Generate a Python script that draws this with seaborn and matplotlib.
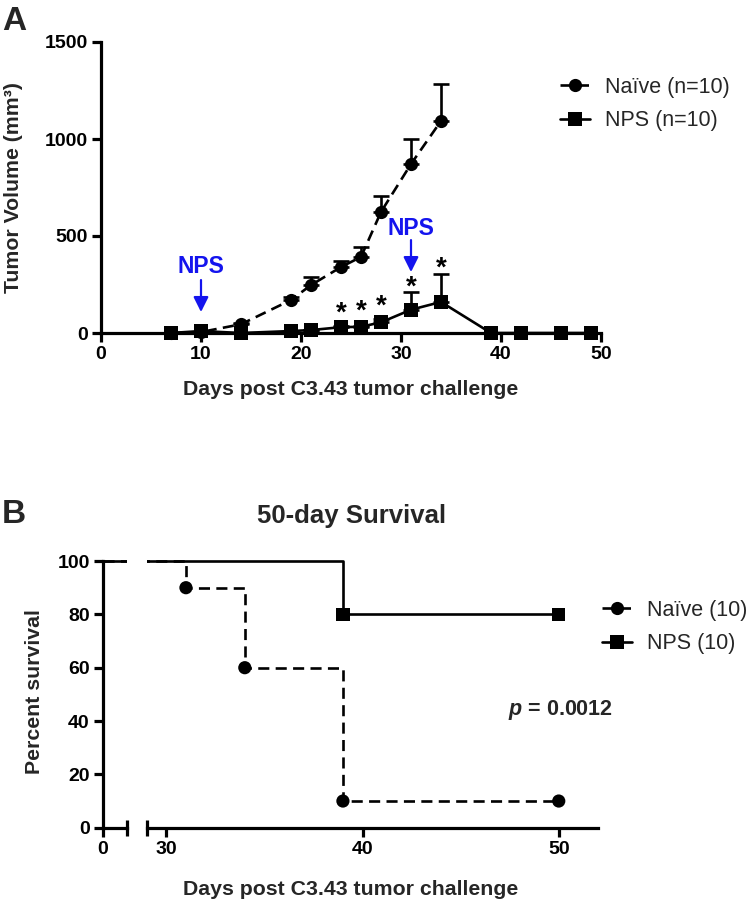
import numpy as np
import pandas as pd
import matplotlib
matplotlib.use("Agg")
import matplotlib.pyplot as plt
import seaborn as sns
from matplotlib.lines import Line2D

# ---------------- data: panel A (tumor volume) ----------------
naive_label = "Naïve (n=10)"
nps_label = "NPS (n=10)"
naive_days = [7, 10, 14, 19, 21, 24, 26, 28, 31, 34]
naive_mean = [0, 5, 45, 170, 247, 340, 392, 624, 871, 1093]
naive_sem = [0, 0, 5, 15, 41, 33, 51, 82, 129, 190]
nps_days = [7, 10, 14, 19, 21, 24, 26, 28, 31, 34, 39, 42, 46, 49]
nps_mean = [0, 10, 0, 10, 15, 30, 32, 55, 120, 160, 0, 0, 0, 0]
nps_sem = [0, 0, 0, 0, 3, 5, 5, 15, 90, 145, 0, 0, 0, 0]
star_days = [24, 26, 28, 31, 34]
star_y = [129, 139, 165, 263, 361]
treat_days = [10, 31]
treat_text_y = [309, 505]
treat_arrow_from = [273, 479]
treat_arrow_to = [108, 314]

# ---------------- data: panel B (survival) ----------------
surv_naive_label = "Naïve (10)"
surv_nps_label = "NPS (10)"
surv_naive_days = [0, 31, 34, 39, 50]
surv_naive = [100, 90, 60, 10, 10]
surv_nps_days = [0, 39, 50]
surv_nps = [100, 80, 80]
p_text = "0.0012"

# ---------------- style ----------------
sns.set_theme(style="ticks")
plt.rcParams["font.family"] = ["Liberation Sans", "DejaVu Sans"]
plt.rcParams["font.weight"] = "bold"
plt.rcParams["mathtext.fontset"] = "custom"
plt.rcParams["mathtext.rm"] = "Liberation Sans:bold"
plt.rcParams["mathtext.it"] = "Liberation Sans:italic:bold"
plt.rcParams["mathtext.bf"] = "Liberation Sans:bold"

W, H = 751, 900
fig = plt.figure(figsize=(W / 100, H / 100), dpi=100)
fig.patch.set_facecolor("white")

def fx(px):
    return px / W

def fy(py):
    return 1 - py / H

SPW = 2.3
LW = 1.9
MS = 9.5
TICKFS = 14
LABFS = 15.3
LEGFS = 15.5
STARFS = 20
BLUE = "#1414ee"
naive_dash = (4.2, 2.4)

def style_axis(ax):
    for s in ["top", "right"]:
        ax.spines[s].set_visible(False)
    for s in ["left", "bottom"]:
        ax.spines[s].set_linewidth(SPW)
        ax.spines[s].set_color("black")
    ax.tick_params(direction="out", length=6.5, width=SPW, labelsize=TICKFS,
                   colors="black", pad=3)
    ax.set_facecolor("white")
    ax.set_xlabel("")
    ax.set_ylabel("")

# ---------------- panel A ----------------
ax1 = fig.add_axes([fx(101), fy(333), fx(500), 291 / H])
df = pd.concat([
    pd.DataFrame({"day": naive_days, "vol": naive_mean, "group": naive_label}),
    pd.DataFrame({"day": nps_days, "vol": nps_mean, "group": nps_label}),
])
nsem = np.array(naive_sem)
psem = np.array(nps_sem)
m = nsem > 0
ax1.errorbar(np.array(naive_days)[m], np.array(naive_mean)[m],
             yerr=[np.zeros(m.sum()), nsem[m]], fmt="none", ecolor="black",
             elinewidth=LW, capsize=6, capthick=LW, clip_on=False, zorder=2)
m2 = psem > 0
ax1.errorbar(np.array(nps_days)[m2], np.array(nps_mean)[m2],
             yerr=[np.zeros(m2.sum()), psem[m2]], fmt="none", ecolor="black",
             elinewidth=LW, capsize=6, capthick=LW, clip_on=False, zorder=2)
sns.lineplot(data=df, x="day", y="vol", style="group",
             style_order=[naive_label, nps_label],
             markers={naive_label: "o", nps_label: "s"},
             dashes={naive_label: naive_dash, nps_label: ""},
             color="black", linewidth=LW, markersize=MS,
             markeredgecolor="black", markeredgewidth=0,
             legend=False, ax=ax1, clip_on=False, zorder=3, sort=False,
             errorbar=None)
ax1.set_xlim(0, 50)
ax1.set_ylim(0, 1500)
ax1.set_xticks(range(0, 51, 10))
ax1.set_yticks([0, 500, 1000, 1500])
style_axis(ax1)

for d, y in zip(star_days, star_y):
    ax1.annotate("*", xy=(d, y), xytext=(0, -0.2 * STARFS),
                 textcoords="offset points", ha="center", va="center",
                 fontsize=STARFS, fontweight="bold", color="black")
for d, ty, a0, a1 in zip(treat_days, treat_text_y, treat_arrow_from, treat_arrow_to):
    ax1.text(d, ty, "NPS", ha="center", va="baseline", fontsize=16.5,
             fontweight="bold", color=BLUE)
    ax1.annotate("", xy=(d, a1), xytext=(d, a0),
                 arrowprops=dict(arrowstyle="-|>,head_length=0.6,head_width=0.3",
                                 color=BLUE, lw=1.6, mutation_scale=15,
                                 shrinkA=0, shrinkB=0))

h_naive = Line2D([], [], color="black", lw=LW, dashes=naive_dash, marker="o",
                 markersize=MS, markeredgewidth=0)
h_nps = Line2D([], [], color="black", lw=LW, marker="s", markersize=MS,
               markeredgewidth=0)
fig.legend([h_naive, h_nps], [naive_label, nps_label], loc="upper left",
           bbox_to_anchor=(fx(560), fy(77)), frameon=False,
           prop={"size": LEGFS, "weight": "normal"}, handlelength=1.4,
           handletextpad=0.7, labelspacing=0.56, borderpad=0, borderaxespad=0)

fig.text(fx(2), fy(30), "A", fontsize=24, fontweight="bold", ha="left", va="baseline")
fig.text(fx(351), fy(395), "Days post C3.43 tumor challenge", fontsize=LABFS,
         fontweight="bold", ha="center", va="baseline")
fig.text(fx(14), fy(187.5), "Tumor Volume (mm³)", fontsize=LABFS,
         fontweight="bold", ha="center", va="center", rotation=90)

# ---------------- panel B ----------------
ybot = fy(827.7)
hgt = 272 / H
axL = fig.add_axes([fx(103), ybot, fx(24), hgt])
axR = fig.add_axes([fx(146.7), ybot, fx(451.3), hgt])
left_lim = (0, 1.2)
right_lim = (29, 52)

for ax in (axL, axR):
    sns.lineplot(x=surv_naive_days, y=surv_naive, ax=ax, color="black",
                 linewidth=LW, drawstyle="steps-post", linestyle=(0, naive_dash),
                 errorbar=None, zorder=2)
    sns.lineplot(x=surv_nps_days, y=surv_nps, ax=ax, color="black",
                 linewidth=LW, drawstyle="steps-post", errorbar=None, zorder=3)

sns.scatterplot(x=surv_naive_days[1:], y=surv_naive[1:], ax=axR, marker="o",
                s=MS ** 2, color="black", edgecolor="none", zorder=4, clip_on=False)
sns.scatterplot(x=surv_nps_days[1:], y=surv_nps[1:], ax=axR, marker="s",
                s=MS ** 2, color="black", edgecolor="none", zorder=4, clip_on=False)

axL.set_xlim(*left_lim)
axL.set_ylim(0, 102)
axL.set_xticks([0])
axL.set_yticks(range(0, 101, 20))
style_axis(axL)
axL.spines["left"].set_bounds(0, 100)

axR.set_xlim(*right_lim)
axR.set_ylim(0, 102)
axR.set_xticks([30, 40, 50])
axR.set_yticks([])
style_axis(axR)
axR.spines["left"].set_visible(False)
axR.tick_params(axis="y", left=False)

axL.plot([left_lim[1]], [0], marker="|", markersize=11, mew=SPW, color="black",
         clip_on=False, zorder=5)
axR.plot([right_lim[0]], [0], marker="|", markersize=11, mew=SPW, color="black",
         clip_on=False, zorder=5)

hs_naive = Line2D([], [], color="black", lw=LW, dashes=naive_dash, marker="o",
                  markersize=MS, markeredgewidth=0)
hs_nps = Line2D([], [], color="black", lw=LW, marker="s", markersize=MS,
                markeredgewidth=0)
fig.legend([hs_naive, hs_nps], [surv_naive_label, surv_nps_label], loc="upper left",
           bbox_to_anchor=(fx(601.7), fy(600)), frameon=False,
           prop={"size": LEGFS, "weight": "normal"}, handlelength=1.4,
           handletextpad=0.7, labelspacing=0.56, borderpad=0, borderaxespad=0)

fig.text(fx(508), fy(715), r"$\it{p}$ = " + p_text, fontsize=15.5,
         fontweight="bold", ha="left", va="baseline")
fig.text(fx(2), fy(523), "B", fontsize=24, fontweight="bold", ha="left", va="baseline")
fig.text(fx(352), fy(523), "50-day Survival", fontsize=18.5, fontweight="bold",
         ha="center", va="baseline")
fig.text(fx(351), fy(895), "Days post C3.43 tumor challenge", fontsize=LABFS,
         fontweight="bold", ha="center", va="baseline")
fig.text(fx(35), fy(692), "Percent survival", fontsize=LABFS,
         fontweight="bold", ha="center", va="center", rotation=90)

fig.savefig("out.png", dpi=100, facecolor="white")
